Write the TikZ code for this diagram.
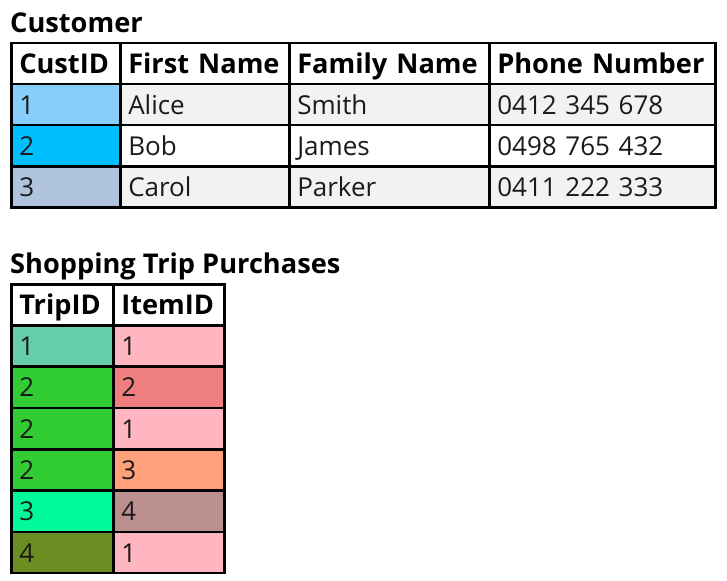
\documentclass[tikz,border=0pt]{standalone}
\usepackage{fontspec}
\setmainfont{Open Sans}
\definecolor{rowgray}{HTML}{F2F2F2}
\definecolor{txtdark}{HTML}{1A1A1A}
\definecolor{lightskyblue}{HTML}{87CEFA}
\definecolor{deepskyblue}{HTML}{00BFFF}
\definecolor{lightsteelblue}{HTML}{B0C4DE}
\definecolor{mediumaquamarine}{HTML}{66CDAA}
\definecolor{limegreen}{HTML}{32CD32}
\definecolor{mediumspringgreen}{HTML}{00FA9A}
\definecolor{olivedrab}{HTML}{6B8E23}
\definecolor{lightpink}{HTML}{FFB6C1}
\definecolor{lightcoral}{HTML}{F08080}
\definecolor{lightsalmon}{HTML}{FFA07A}
\definecolor{rosybrown}{HTML}{BC8F8F}
\tikzset{
  cell/.style={draw,line width=2.5pt,anchor=north west,inner xsep=8pt,inner ysep=0pt,
    minimum height=41pt,text height=19pt,text depth=0pt,align=left,text=txtdark,
    font=\fontsize{26}{28}\selectfont},
  head/.style={cell,text=black,text height=20pt,font=\bfseries\fontsize{27.2}{29}\selectfont},
  title/.style={anchor=base west,inner sep=0pt,font=\bfseries\fontsize{27.2}{29}\selectfont},
  wa/.style={text width=93pt},
  wb/.style={text width=153pt},
  wc/.style={text width=184pt},
  wd/.style={text width=210pt},
  we/.style={text width=86pt},
  wf/.style={text width=95pt}
}
\begin{document}
\begin{tikzpicture}[x=1pt,y=-1pt]
\useasboundingbox (0,0) rectangle (727,580);
% Customer
\node[title] (custtitle) at (10,33) {Customer};
\node[head,wa] (cust-0-1) at (10,42) {\mbox{CustID}};
\node[head,wb] (cust-0-2) at (119,42) {\mbox{First Name}};
\node[head,wc] (cust-0-3) at (288,42) {\mbox{Family Name}};
\node[head,wd] (cust-0-4) at (488,42) {\mbox{Phone Number}};
\foreach \i/\idc/\fn/\sn/\ph/\bg in {1/lightskyblue/Alice/Smith/0412 345 678/rowgray,
    2/deepskyblue/Bob/James/0498 765 432/white,
    3/lightsteelblue/Carol/Parker/0411 222 333/rowgray}{
  \node[cell,wa,fill=\idc] (cust-\i-1) at (10,42+41*\i) {\i};
  \node[cell,wb,fill=\bg] (cust-\i-2) at (119,42+41*\i) {\fn};
  \node[cell,wc,fill=\bg] (cust-\i-3) at (288,42+41*\i) {\sn};
  \node[cell,wd,fill=\bg] (cust-\i-4) at (488,42+41*\i) {\ph};
}
% Shopping Trip Purchases
\node[title] (triptitle) at (10,273) {Shopping Trip Purchases};
\node[head,we] (trip-0-1) at (10,283) {\mbox{TripID}};
\node[head,wf] (trip-0-2) at (112,283) {\mbox{ItemID}};
\foreach \i/\t/\tc/\it/\ic in {1/1/mediumaquamarine/1/lightpink,
    2/2/limegreen/2/lightcoral,
    3/2/limegreen/1/lightpink,
    4/2/limegreen/3/lightsalmon,
    5/3/mediumspringgreen/4/rosybrown,
    6/4/olivedrab/1/lightpink}{
  \node[cell,we,fill=\tc] (trip-\i-1) at (10,283+41.3*\i) {\t};
  \node[cell,wf,fill=\ic] (trip-\i-2) at (112,283+41.3*\i) {\it};
}
\end{tikzpicture}
\end{document}
